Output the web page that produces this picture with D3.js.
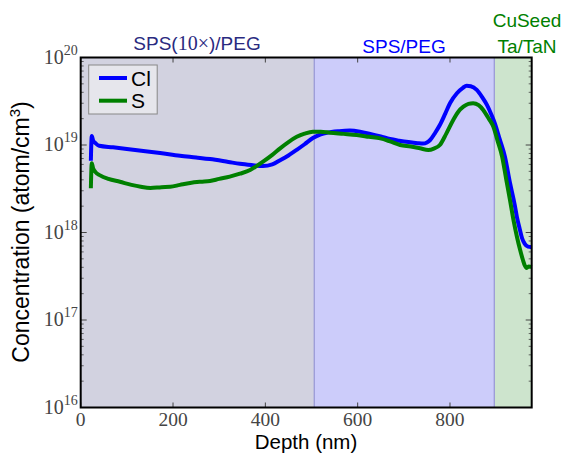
<!DOCTYPE html>
<html><head><meta charset="utf-8">
<script src="https://cdn.jsdelivr.net/npm/d3@7"></script>
<style>body{margin:0;background:#fff}</style>
</head><body>
<svg id="chart" width="566" height="453"></svg>
<script>
// Depth (nm) and concentration (atom/cm^3)
const clDepth = [22,24,27,32,40,70,100,140,172,215,250,280,320,345,370,395,415,432,450,468,485,503,520,533,560,583,605,627,650,670,690,710,730,742,750,757,768,778,790,800,815,828,836,845,858,870,880,890,897,908,919,930,940,945,951,956,962,969,977];
const clValue = [6.6e18,1.27e19,1.12e19,1.05e19,9.8e18,9.4e18,9.0e18,8.5e18,8.1e18,7.55e18,7.2e18,6.9e18,6.4e18,6.1e18,5.9e18,5.75e18,6.0e18,6.7e18,7.6e18,8.8e18,1.02e19,1.2e19,1.32e19,1.38e19,1.44e19,1.46e19,1.42e19,1.34e19,1.25e19,1.17e19,1.12e19,1.08e19,1.05e19,1.04e19,1.07e19,1.14e19,1.38e19,1.69e19,2.3e19,3.0e19,3.9e19,4.5e19,4.76e19,4.7e19,4.26e19,3.5e19,2.87e19,2.2e19,1.78e19,1.15e19,7.35e18,3.68e18,2.1e18,1.5e18,1.1e18,8.65e17,7.4e17,6.9e17,6.8e17];
const sDepth = [22,24,27,32,42,60,85,110,130,151,175,194,215,237,260,280,300,323,345,367,380,395,415,432,450,468,485,503,520,540,570,598,625,649,670,692,715,735,753,765,778,792,807,818,829,840,850,862,872,884,894,903,913,922,930,938,945,952,958,962,966,971,977];
const sValue = [3.2e18,6.2e18,5.4e18,4.9e18,4.5e18,4.1e18,3.8e18,3.5e18,3.33e18,3.23e18,3.3e18,3.33e18,3.5e18,3.68e18,3.8e18,3.88e18,4.1e18,4.35e18,4.7e18,5.18e18,5.7e18,6.44e18,7.7e18,9.16e18,1.08e19,1.24e19,1.35e19,1.42e19,1.42e19,1.38e19,1.34e19,1.3e19,1.24e19,1.19e19,1.1e19,1.0e19,9.6e18,9.16e18,8.77e18,9.1e18,1.0e19,1.35e19,1.93e19,2.4e19,2.74e19,2.95e19,3.0e19,2.85e19,2.51e19,2.0e19,1.62e19,1.12e19,7.35e18,4.0e18,2.35e18,1.35e18,8.95e17,6.3e17,4.85e17,4.2e17,3.93e17,4.1e17,4.04e17];
const regions = [
  {from:0, to:506, fill:"#d2d2e0"},
  {from:506, to:896, fill:"#ccccfa"},
  {from:896, to:977, fill:"#cde4cd"}
];
const xTicks = [0,200,400,600,800];
const yExp = [16,17,18,19,20];

const svg = d3.select("#chart");
const m = {l:80.7, r:531.7, t:57.5, b:407.5};
const x = d3.scaleLinear().domain([0,977]).range([m.l,m.r]);
const y = d3.scaleLog().domain([1e16,1e20]).range([m.b,m.t]);

// regions
svg.selectAll("rect.reg").data(regions).join("rect")
  .attr("x",d=>x(d.from)).attr("width",d=>x(d.to)-x(d.from))
  .attr("y",m.t).attr("height",m.b-m.t).attr("fill",d=>d.fill);
svg.selectAll("line.bnd").data([506,896]).join("line")
  .attr("x1",d=>x(d)).attr("x2",d=>x(d)).attr("y1",m.t).attr("y2",m.b)
  .attr("stroke","#9a9ad6").attr("stroke-width",1.3);

// ticks (inside)
const tickCol = "#444";
const g = svg.append("g");
xTicks.forEach(t=>{
  g.append("line").attr("x1",x(t)).attr("x2",x(t)).attr("y1",m.b).attr("y2",m.b-5).attr("stroke",tickCol);
  g.append("line").attr("x1",x(t)).attr("x2",x(t)).attr("y1",m.t).attr("y2",m.t+5).attr("stroke",tickCol);
});
const minor = [];
for (let e=16;e<20;e++) for (let k=2;k<=9;k++) minor.push(k*Math.pow(10,e));
minor.forEach(v=>{
  g.append("line").attr("x1",m.l).attr("x2",m.l+3).attr("y1",y(v)).attr("y2",y(v)).attr("stroke",tickCol).attr("stroke-width",0.8);
  g.append("line").attr("x1",m.r).attr("x2",m.r-3).attr("y1",y(v)).attr("y2",y(v)).attr("stroke",tickCol).attr("stroke-width",0.8);
});
yExp.forEach(e=>{
  const v=Math.pow(10,e);
  g.append("line").attr("x1",m.l).attr("x2",m.l+6).attr("y1",y(v)).attr("y2",y(v)).attr("stroke",tickCol);
  g.append("line").attr("x1",m.r).attr("x2",m.r-6).attr("y1",y(v)).attr("y2",y(v)).attr("stroke",tickCol);
});

// lines
const line = d3.line().x(d=>x(d[0])).y(d=>y(d[1])).curve(d3.curveMonotoneX);
svg.append("path").datum(clDepth.map((d,i)=>[d,clValue[i]]))
  .attr("d",line).attr("fill","none").attr("stroke","#0000ff").attr("stroke-width",4).attr("stroke-linejoin","round");
svg.append("path").datum(sDepth.map((d,i)=>[d,sValue[i]]))
  .attr("d",line).attr("fill","none").attr("stroke","#008000").attr("stroke-width",4).attr("stroke-linejoin","round");

// frame
svg.append("rect").attr("x",m.l).attr("y",m.t).attr("width",m.r-m.l).attr("height",m.b-m.t)
  .attr("fill","none").attr("stroke","#000").attr("stroke-width",2);

// tick labels
const serif = "'Liberation Serif','DejaVu Serif',serif";
svg.selectAll("text.xt").data(xTicks).join("text")
  .attr("x",d=>x(d)).attr("y",425.5).attr("text-anchor","middle")
  .attr("font-family",serif).attr("font-size",19.5).attr("fill","#444").text(d=>d);
yExp.forEach(e=>{
  const t = svg.append("text").attr("x",m.l-3).attr("y",y(Math.pow(10,e))+6)
    .attr("text-anchor","end").attr("font-family",serif).attr("fill","#444").attr("font-size",20);
  t.append("tspan").text("10");
  t.append("tspan").attr("font-size",14).attr("dy",-9).text(e);
});

// axis titles
const sans = "'Liberation Sans',Arial,sans-serif";
svg.append("text").attr("x",306).attr("y",449).attr("text-anchor","middle")
  .attr("font-family",sans).attr("font-size",20.5).attr("fill","#000").text("Depth (nm)");
const yl = svg.append("text").attr("transform","translate(29,232) rotate(-90)").attr("text-anchor","middle")
  .attr("font-family",sans).attr("font-size",23).attr("fill","#000");
yl.append("tspan").text("Concentration (atom/cm");
yl.append("tspan").attr("font-size",15).attr("dy",-9).text("3");
yl.append("tspan").attr("dy",9).text(")");

// region labels
const t1 = svg.append("text").attr("x",197).attr("y",50).attr("text-anchor","middle")
  .attr("font-family",sans).attr("font-size",19).attr("fill","#2a2a80");
t1.append("tspan").text("SPS(");
t1.append("tspan").attr("font-family",serif).attr("font-size",20).text("10×");
t1.append("tspan").text(")/PEG");
svg.append("text").attr("x",404).attr("y",53).attr("text-anchor","middle")
  .attr("font-family",sans).attr("font-size",19).attr("fill","#0000ff").text("SPS/PEG");
svg.append("text").attr("x",527).attr("y",27).attr("text-anchor","middle")
  .attr("font-family",sans).attr("font-size",19).attr("fill","#008000").text("CuSeed");
svg.append("text").attr("x",527).attr("y",53).attr("text-anchor","middle")
  .attr("font-family",sans).attr("font-size",19).attr("fill","#008000").text("Ta/TaN");

// legend
const lg = svg.append("g");
lg.append("rect").attr("x",88.7).attr("y",65).attr("width",68.5).attr("height",49)
  .attr("fill","#e6e6ec").attr("stroke","#888").attr("stroke-width",1);
const leg = [{name:"Cl",color:"#0000ff",yy:78},{name:"S",color:"#008000",yy:100.7}];
leg.forEach(l=>{
  lg.append("line").attr("x1",99).attr("x2",127).attr("y1",l.yy).attr("y2",l.yy)
    .attr("stroke",l.color).attr("stroke-width",4);
  lg.append("text").attr("x",131).attr("y",l.yy+7.5).attr("font-family",sans).attr("font-size",21)
    .attr("fill","#000").text(l.name);
});
</script>
</body></html>
